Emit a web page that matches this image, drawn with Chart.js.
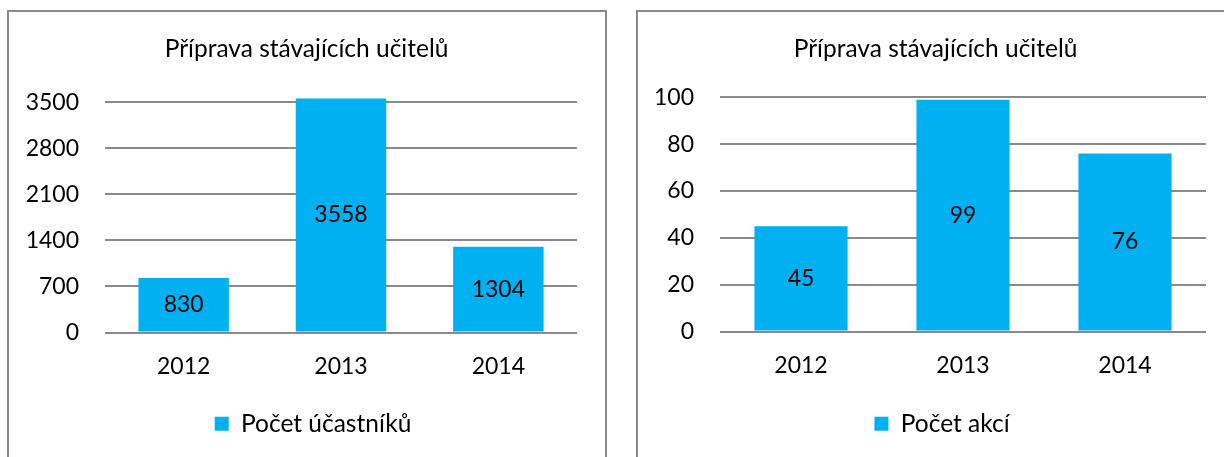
<!DOCTYPE html>
<html><head><meta charset="utf-8">
<script src="https://cdn.jsdelivr.net/npm/chart.js@4"></script>
<style>
html,body{margin:0;padding:0;background:#fff;width:1224px;height:457px;overflow:hidden}
.box{position:absolute;top:10px;width:596px;height:460px;border:2px solid #898989;border-bottom:none}
.box canvas{position:absolute;left:0;top:0}
</style></head><body>
<div class="box" style="left:7px"><canvas id="c1" width="596" height="445"></canvas></div>
<div class="box" style="left:636px"><canvas id="c2" width="596" height="445"></canvas></div>
<script>
const categories = ['2012', '2013', '2014'];
const chartTitle = 'Příprava stávajících učitelů';
const participantsLabel = 'Počet účastníků';
const participants = [830, 3558, 1304];
const participantsTicks = [0, 700, 1400, 2100, 2800, 3500];
const eventsLabel = 'Počet akcí';
const events = [45, 99, 76];
const eventsTicks = [0, 20, 40, 60, 80, 100];

const FONT = 'Lato';
const BAR = '#00B0F0';
const GRID = '#8a8a8a';

const valueLabels = {
  id: 'valueLabels',
  afterDatasetsDraw(chart) {
    const ctx = chart.ctx;
    ctx.save();
    ctx.font = '23px ' + FONT;
    ctx.fillStyle = '#000';
    ctx.textAlign = 'center';
    ctx.textBaseline = 'middle';
    chart.data.datasets.forEach((ds, i) => {
      chart.getDatasetMeta(i).data.forEach((el, j) => {
        ctx.fillText(String(ds.data[j]), el.x, (el.y + el.base) / 2);
      });
    });
    ctx.restore();
  }
};

const boxShift = {
  id: 'boxShift',
  afterLayout(chart) {
    if (chart.titleBlock) { chart.titleBlock.left += 13.5; chart.titleBlock.right += 13.5; }
    if (chart.legend) { chart.legend.left += 20; chart.legend.right += 20; }
  }
};

function makeChart(id, label, data, ticks, yWidth, titleBottom, xHeight) {
  return new Chart(document.getElementById(id), {
    type: 'bar',
    data: {
      labels: categories,
      datasets: [{
        label: label,
        data: data,
        backgroundColor: BAR,
        borderWidth: 0,
        categoryPercentage: 1,
        barPercentage: 0.575,
        clip: false
      }]
    },
    options: {
      responsive: false,
      animation: false,
      devicePixelRatio: 1,
      layout: { padding: { left: 0, right: 28, top: 0, bottom: 11 } },
      plugins: {
        title: {
          display: true,
          text: chartTitle,
          color: '#000',
          font: { family: FONT, size: 24.5, weight: 'normal' },
          padding: { top: 22, bottom: titleBottom }
        },
        legend: {
          position: 'bottom',
          labels: {
            color: '#000',
            boxWidth: 14,
            boxHeight: 14,
            padding: 10,
            font: { family: FONT, size: 24.5 }
          }
        },
        tooltip: { enabled: false }
      },
      scales: {
        x: {
          grid: { display: false },
          border: { display: false },
          ticks: { color: '#000', padding: 12, font: { family: FONT, size: 23 } },
          afterFit(s) { s.height = xHeight; }
        },
        y: {
          min: ticks[0],
          max: ticks[ticks.length - 1],
          grid: { color: GRID, lineWidth: 2, drawTicks: false },
          border: { display: false },
          ticks: {
            color: '#000', padding: 26, font: { family: FONT, size: 23 },
            callback: v => String(v)
          },
          afterBuildTicks(s) { s.ticks = ticks.map(v => ({ value: v })); },
          afterFit(s) { s.width = yWidth; }
        }
      }
    },
    plugins: [valueLabels, boxShift]
  });
}

makeChart('c1', participantsLabel, participants, participantsTicks, 96, 39, 69);
makeChart('c2', eventsLabel, events, eventsTicks, 82, 34, 70);
</script>
</body></html>
